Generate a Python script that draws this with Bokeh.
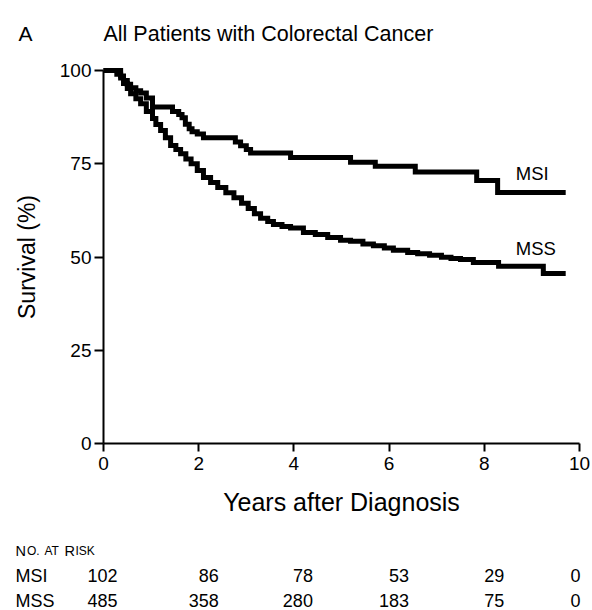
from bokeh.plotting import figure
from bokeh.models import Label, LabelSet, ColumnDataSource, Range1d, FixedTicker, LinearAxis
from bokeh.core.properties import value
from bokeh.embed import file_html
from bokeh.resources import INLINE

# ---------------- data ----------------
msi_t = [0, 0.36, 0.42, 0.5, 0.57, 0.68, 0.78, 0.9, 1.03, 1.45, 1.58, 1.65, 1.72, 1.8,
         1.86, 1.97, 2.1, 2.77, 2.88, 3.0, 3.09, 3.93, 5.19, 5.71, 6.55, 7.84, 8.28, 9.71]
msi_s = [100, 98.5, 97.3, 96.3, 95.4, 94.6, 94.0, 92.6, 90.2, 89.0, 88.2, 87.3, 85.6, 84.4,
         83.6, 83.0, 82.0, 80.8, 79.8, 78.8, 77.9, 76.7, 75.4, 74.3, 72.8, 70.5, 67.3, 67.3]

mss_t = [0, 0.28, 0.36, 0.42, 0.5, 0.57, 0.68, 0.78, 0.9, 1.03,
         1.1, 1.2, 1.3, 1.41, 1.52, 1.62, 1.73, 1.84, 1.97, 2.1,
         2.25, 2.4, 2.57, 2.74, 2.9, 3.04, 3.17, 3.3, 3.45, 3.57,
         3.75, 3.93, 4.2, 4.45, 4.71, 4.98, 5.19, 5.45, 5.67, 5.9,
         6.09, 6.39, 6.6, 6.85, 7.1, 7.3, 7.5, 7.77, 8.3, 9.24, 9.71]
mss_s = [100, 99.0, 98.0, 96.5, 95.2, 93.8, 92.4, 91.1, 89.0, 87.1,
         85.5, 83.9, 82.0, 79.9, 78.8, 77.7, 76.3, 75.0, 73.2, 71.3,
         70.0, 68.6, 67.2, 65.9, 64.4, 63.0, 61.6, 60.4, 59.5, 58.7,
         58.2, 57.8, 56.6, 56.0, 55.2, 54.5, 54.2, 53.5, 53.0, 52.4,
         51.8, 51.2, 50.9, 50.5, 49.9, 49.6, 49.3, 48.5, 47.5, 45.6, 45.6]

x_ticks = [0, 2, 4, 6, 8, 10]
y_ticks = [0, 25, 50, 75, 100]
risk_years = [0, 2, 4, 6, 8, 10]
msi_risk = [102, 86, 78, 53, 29, 0]
mss_risk = [485, 358, 280, 183, 75, 0]

title = "All Patients with Colorectal Cancer"
panel_letter = "A"
x_label = "Years after Diagnosis"
y_label = "Survival (%)"
group_names = ["MSI", "MSS"]

FONT = "Liberation Sans"
W, H = 592, 610
# pixel placement of the data area inside the canvas
X0_PX, X10_PX = 103, 579       # where years 0 and 10 fall
Y0_PX, Y100_PX = 443, 70       # where 0 % and 100 % fall
ppx = (X10_PX - X0_PX) / 10.0
ppy = (Y0_PX - Y100_PX) / 100.0
x_rng = Range1d(-X0_PX / ppx, (W - X0_PX) / ppx)
y_rng = Range1d(-(H - Y0_PX) / ppy, Y0_PX / ppy)

# the frame spans the whole canvas; the axes sit at fixed data locations
p = figure(width=W, height=H, x_range=x_rng, y_range=y_rng,
           output_backend="svg", toolbar_location=None, title=None,
           x_axis_location=None, y_axis_location=None,
           min_border_left=0, min_border_right=0, min_border_top=0, min_border_bottom=0)
p.background_fill_color = "white"
p.border_fill_color = "white"
p.outline_line_color = None
p.grid.visible = False

xax = LinearAxis(fixed_location=0, bounds=(0, 10), ticker=FixedTicker(ticks=x_ticks))
yax = LinearAxis(fixed_location=0, bounds=(0, 100), ticker=FixedTicker(ticks=y_ticks))
for ax in (xax, yax):
    ax.axis_line_width = 2
    ax.axis_line_color = "black"
    ax.major_tick_line_width = 2
    ax.major_tick_line_color = "black"
    ax.major_tick_in = 0
    ax.minor_tick_line_color = None
    ax.major_label_text_font = FONT
    ax.major_label_text_font_size = "19px"
    ax.major_label_text_color = "black"
    ax.axis_label_text_font = FONT
    ax.axis_label_text_font_style = "normal"
    ax.axis_label_text_color = "black"
xax.major_tick_out = 8
yax.major_tick_out = 9
xax.major_label_standoff = 5
yax.major_label_standoff = 3
xax.axis_label = x_label
xax.axis_label_text_font_size = "25px"
xax.axis_label_standoff = 15
yax.axis_label = y_label
yax.axis_label_text_font_size = "23px"
yax.axis_label_standoff = 17
p.add_layout(xax, "below")
p.add_layout(yax, "left")

# ---------------- curves ----------------
p.step(msi_t, msi_s, mode="after", line_width=5, line_color="black", line_join="miter")
p.step(mss_t, mss_s, mode="after", line_width=5, line_color="black", line_join="miter")

p.add_layout(Label(x=8.66, y=72.4, text=group_names[0], text_font=FONT, text_font_size="18.5px",
                   text_baseline="middle", text_align="left", text_color="black"))
p.add_layout(Label(x=8.66, y=52.3, text=group_names[1], text_font=FONT, text_font_size="18.5px",
                   text_baseline="middle", text_align="left", text_color="black"))

# ---------------- heading ----------------
head_y = (Y0_PX - 33) / ppy
p.add_layout(Label(x=0, x_offset=-85, y=head_y, text=panel_letter, text_font=FONT,
                   text_font_size="21px", text_baseline="middle", text_align="left",
                   text_color="black"))
p.add_layout(Label(x=0, y=head_y, text=title, text_font=FONT,
                   text_font_size="21.5px", text_baseline="middle", text_align="left",
                   text_color="black"))

# ---------------- number at risk ----------------
hdr_y = (Y0_PX - 550) / ppy
hdr_parts = [("N", -88, "14.5px"), ("O.", -76.5, "12px"), ("AT", -59, "12px"),
             ("R", -39, "14.5px"), ("ISK", -28, "12px")]
for txt, xs, fs in hdr_parts:
    p.add_layout(Label(x=0, x_offset=xs, y=hdr_y, text=txt, text_font=FONT,
                       text_font_size=fs, text_baseline="alphabetic", text_align="left",
                       text_color="black"))

row_y = [(Y0_PX - 575) / ppy, (Y0_PX - 600) / ppy]
for name, ry in zip(group_names, row_y):
    p.add_layout(Label(x=0, x_offset=-88, y=ry, text=name, text_font=FONT,
                       text_font_size="18px", text_baseline="middle", text_align="left",
                       text_color="black"))

col_offsets = [14, 20, 19, 20, 20, 1]
for counts, ry in zip([msi_risk, mss_risk], row_y):
    src = ColumnDataSource(dict(x=risk_years, y=[ry] * len(risk_years),
                                t=[str(c) for c in counts], dx=col_offsets))
    p.add_layout(LabelSet(x="x", y="y", text="t", x_offset="dx", source=src,
                          text_font=value(FONT), text_font_size=value("18px"),
                          text_baseline=value("middle"), text_align=value("right"),
                          text_color=value("black")))

open("out.html", "w").write(file_html(p, INLINE))
